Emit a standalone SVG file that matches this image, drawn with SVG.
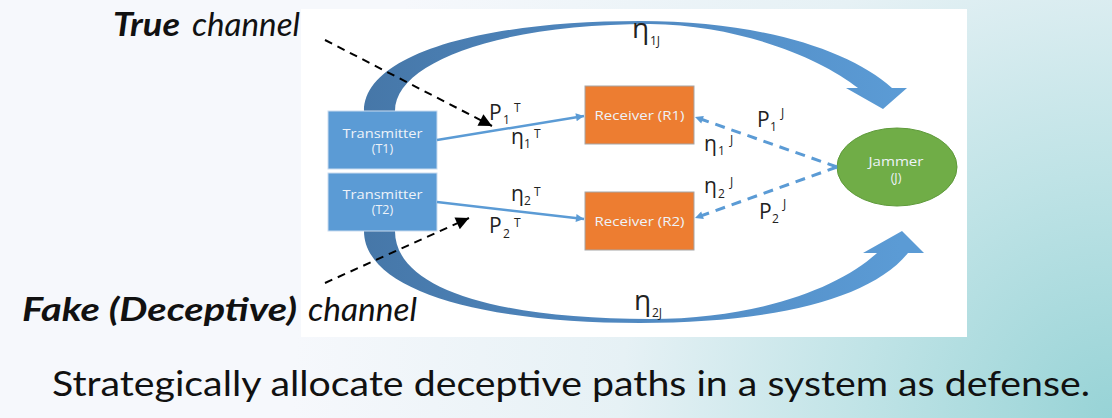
<svg xmlns="http://www.w3.org/2000/svg" width="1112" height="418" viewBox="0 0 1112 418">
  <style>
    .box { fill: #5b9bd5; stroke: #c9dbef; stroke-width: 1; }
    .rcv { fill: #ed7d31; stroke: #a6a6a6; stroke-width: 1; }
    .jam { fill: #70ad47; stroke: #5e9a3a; stroke-width: 1; }
    .btxt { font-family: "Open Sans", "Noto Sans", sans-serif; font-size: 12.5px; fill: #eef3f9; text-anchor: middle; }
    .lbl { font-family: "Open Sans", "Noto Sans", sans-serif; font-size: 21px; fill: #222222; }
    .sm { font-size: 12px; }
    .big { font-family: "Open Sans", "Noto Sans", sans-serif; font-size: 28px; fill: #222222; }
    .cap { font-family: Lato, "Liberation Sans", sans-serif; font-size: 32px; fill: #111111; font-style: italic; }
    .solid { fill: none; stroke: #5b9bd5; stroke-width: 2.5; }
    .dashb { fill: none; stroke: #5b9bd5; stroke-width: 3; stroke-dasharray: 10 7; }
    .dashk { fill: none; stroke: #000000; stroke-width: 2; stroke-dasharray: 8 6; }
  </style>
  <defs>
    <radialGradient id="bg" gradientUnits="userSpaceOnUse" cx="1112" cy="418" r="820">
      <stop offset="0" stop-color="#97d3d6"/>
      <stop offset="0.3" stop-color="#bfe3e6"/>
      <stop offset="0.6" stop-color="#e6f1f5"/>
      <stop offset="1" stop-color="#f6f8fc"/>
    </radialGradient>
    <linearGradient id="arc" gradientUnits="userSpaceOnUse" x1="364" y1="0" x2="900" y2="0">
      <stop offset="0" stop-color="#4677a8"/>
      <stop offset="0.45" stop-color="#4f87bf"/>
      <stop offset="1" stop-color="#5b9bd5"/>
    </linearGradient>
    <marker id="mb" viewBox="0 0 10 10" refX="10" refY="5" markerWidth="10" markerHeight="8" markerUnits="userSpaceOnUse" orient="auto">
      <path d="M0,0 L10,5 L0,10 z" fill="#5b9bd5"/>
    </marker>
    <marker id="mk" viewBox="0 0 10 10" refX="10" refY="5" markerWidth="16" markerHeight="13" markerUnits="userSpaceOnUse" orient="auto">
      <path d="M0,0 L10,5 L0,10 z" fill="#000000"/>
    </marker>
  </defs>

  <rect x="0" y="0" width="1112" height="418" fill="url(#bg)"/>
  <rect x="301" y="9" width="666" height="328" fill="#ffffff"/>

  <g id="arcs">
    <path id="arc-top" fill="url(#arc)" d="M364,111 C364,55 480,21 640,21 C760,21 850,50 892,88 L907,88 L883,109 L846,88 L858,88 C820,58 740,25 650,24 C500,24 395,62 395,111 Z"/>
    <path id="arc-bottom" fill="url(#arc)" d="M364,231 C364,290 480,323 640,323 C770,323 870,300 908,253 L924,253 L902,231 L863,253 L877,253 C840,287 760,319 650,319 C500,319 395,290 395,231 Z"/>
  </g>

  <g id="t1">
    <rect class="box" x="328" y="111" width="109" height="58"/>
    <text class="btxt" x="382.5" y="137.5" textLength="80" lengthAdjust="spacingAndGlyphs">Transmitter</text>
    <text class="btxt" x="382.5" y="153">(T1)</text>
  </g>
  <g id="t2">
    <rect class="box" x="328" y="173" width="109" height="58"/>
    <text class="btxt" x="382.5" y="198.5" textLength="80" lengthAdjust="spacingAndGlyphs">Transmitter</text>
    <text class="btxt" x="382.5" y="214">(T2)</text>
  </g>
  <g id="r1">
    <rect class="rcv" x="585" y="86" width="109" height="58"/>
    <text class="btxt" x="639.5" y="120" textLength="90" lengthAdjust="spacingAndGlyphs">Receiver (R1)</text>
  </g>
  <g id="r2">
    <rect class="rcv" x="585" y="192" width="109" height="58"/>
    <text class="btxt" x="639.5" y="225.5" textLength="90" lengthAdjust="spacingAndGlyphs">Receiver (R2)</text>
  </g>
  <g id="jammer">
    <ellipse class="jam" cx="897" cy="167" rx="60" ry="39"/>
    <text class="btxt" x="896" y="165.5" textLength="55" lengthAdjust="spacingAndGlyphs">Jammer</text>
    <text class="btxt" x="896" y="181.5">(J)</text>
  </g>

  <g id="connectors">
    <path class="solid" d="M437,140 L584,116" marker-end="url(#mb)"/>
    <path class="solid" d="M437,202 L584,219" marker-end="url(#mb)"/>
    <path class="dashb" d="M837,167 L695,117" marker-end="url(#mb)"/>
    <path class="dashb" d="M837,167 L695,218" marker-end="url(#mb)"/>
    <path class="dashk" d="M325,40 L492,126" marker-end="url(#mk)"/>
    <path class="dashk" d="M325,283 L469,218" marker-end="url(#mk)"/>
  </g>

  <g id="labels">
    <text class="big" x="632" y="38">η<tspan class="sm" x="650" y="45">1J</tspan></text>
    <text class="big" x="634" y="310">η<tspan class="sm" x="652" y="317">2J</tspan></text>
    <text class="lbl" x="489" y="120">P<tspan class="sm" x="503" y="124">1</tspan><tspan class="sm" x="514" y="112">T</tspan></text>
    <text class="lbl" x="511" y="144">η<tspan class="sm" x="524" y="148">1</tspan><tspan class="sm" x="534" y="138">T</tspan></text>
    <text class="lbl" x="511" y="201">η<tspan class="sm" x="524" y="205">2</tspan><tspan class="sm" x="534" y="196">T</tspan></text>
    <text class="lbl" x="489" y="233">P<tspan class="sm" x="503" y="238">2</tspan><tspan class="sm" x="514" y="227">T</tspan></text>
    <text class="lbl" x="757" y="127">P<tspan class="sm" x="770" y="131">1</tspan><tspan class="sm" x="781" y="117">J</tspan></text>
    <text class="lbl" x="704" y="151">η<tspan class="sm" x="718" y="155">1</tspan><tspan class="sm" x="730" y="144">J</tspan></text>
    <text class="lbl" x="704" y="193">η<tspan class="sm" x="718" y="198">2</tspan><tspan class="sm" x="730" y="186">J</tspan></text>
    <text class="lbl" x="759" y="219">P<tspan class="sm" x="772" y="223">2</tspan><tspan class="sm" x="783" y="208">J</tspan></text>
  </g>

  <g id="captions">
    <text class="cap" x="113" y="36" font-weight="bold" textLength="67" lengthAdjust="spacingAndGlyphs">True</text>
    <text class="cap" x="192" y="36" textLength="108" lengthAdjust="spacingAndGlyphs">channel</text>
    <text class="cap" x="22" y="321" font-weight="bold" textLength="275" lengthAdjust="spacingAndGlyphs">Fake (Deceptive)</text>
    <text class="cap" x="308" y="321" textLength="109" lengthAdjust="spacingAndGlyphs">channel</text>
    <text x="52" y="396" font-family="Lato, 'Liberation Sans', sans-serif" font-size="35" fill="#111111" textLength="1038" lengthAdjust="spacingAndGlyphs">Strategically allocate deceptive paths in a system as defense.</text>
  </g>
</svg>
